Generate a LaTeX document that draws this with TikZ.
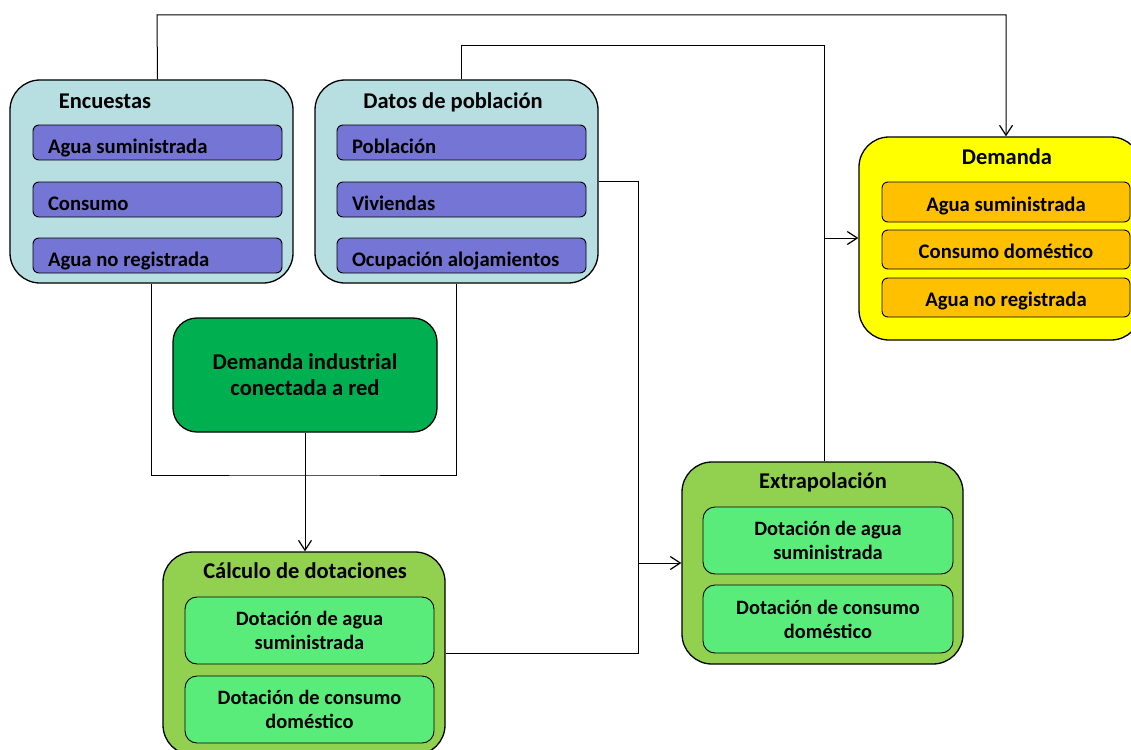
\documentclass[tikz,border=0pt]{standalone}
\usepackage{fontspec}
\setmainfont{Carlito}
\usetikzlibrary{arrows.meta}

\definecolor{panelblue}{HTML}{B7DEE1}
\definecolor{itempurple}{HTML}{7575D5}
\definecolor{panelyellow}{HTML}{FFFF00}
\definecolor{itemorange}{HTML}{FFC000}
\definecolor{panelgreen}{HTML}{92D050}
\definecolor{itemgreen}{HTML}{5AEC7A}
\definecolor{darkgreen}{HTML}{00B050}

\tikzset{
  stagebox/.style={draw=black, line width=1.3pt, rounded corners=30pt, inner sep=0pt},
  itembox/.style={draw=black, line width=0.9pt, rounded corners=6pt, inner sep=0pt,
    font=\bfseries\fontsize{20.7}{24}\selectfont},
  leftitem/.style={itembox, text width=219pt, align=flush left, text height=21pt, text depth=0pt},
  centeritem/.style={itembox, align=center, text height=18pt, text depth=0pt},
  doubleitem/.style={itembox, align=center, rounded corners=12pt,
    font=\bfseries\fontsize{20.4}{24}\selectfont},
  stagetitle/.style={anchor=base, inner sep=0pt, font=\bfseries\fontsize{22.5}{26}\selectfont},
  link/.style={draw=black, line width=1pt},
  arr/.style={-{Straight Barb[length=10pt, width=13pt, line width=1.2pt]}}
}

\begin{document}
\begin{tikzpicture}[x=1pt, y=-1pt]
    \useasboundingbox (0,0) rectangle (1131,749);
    \clip (0,0) rectangle (1131,749);

    % paneles
    \node[stagebox, fill=panelblue, minimum width=283pt, minimum height=203pt] (enc) at (151.5,181.5) {};
    \node[stagebox, fill=panelblue, minimum width=283pt, minimum height=203pt] (datos) at (456.5,181.5) {};
    \node[stagebox, fill=panelyellow, minimum width=282pt, minimum height=203pt] (dem) at (1000,238.5) {};
    \node[stagebox, fill=darkgreen, rounded corners=24pt, minimum width=264pt, minimum height=114pt,
          align=center, font=\bfseries\fontsize{22.6}{26}\selectfont] (ind) at (305,375)
          {Demanda industrial\\conectada a red};
    \node[stagebox, fill=panelgreen, minimum width=282pt, minimum height=203pt] (calc) at (304,653.5) {};
    \node[stagebox, fill=panelgreen, minimum width=281pt, minimum height=202pt] (extra) at (822.5,563) {};

    % titulos
    \node[stagetitle] (encT) at (105,109) {Encuestas};
    \node[stagetitle] (datosT) at (453,109) {Datos de población};
    \node[stagetitle] (demT) at (1007,164) {Demanda};
    \node[stagetitle] (calcT) at (305,578) {Cálculo de dotaciones};
    \node[stagetitle] (extraT) at (823,488) {Extrapolación};

    % encuestas
    \node[leftitem, fill=itempurple, minimum width=249pt, minimum height=35pt] (ea1) at (157.5,142.5) {Agua suministrada};
    \node[leftitem, fill=itempurple, minimum width=249pt, minimum height=35pt] (ea2) at (157.5,199.5) {Consumo};
    \node[leftitem, fill=itempurple, minimum width=249pt, minimum height=35pt] (ea3) at (157.5,255.5) {Agua no registrada};

    % datos de poblacion
    \node[leftitem, fill=itempurple, minimum width=249pt, minimum height=35pt] (da1) at (461.5,142.5) {Población};
    \node[leftitem, fill=itempurple, minimum width=249pt, minimum height=35pt] (da2) at (461.5,199.5) {Viviendas};
    \node[leftitem, fill=itempurple, minimum width=249pt, minimum height=35pt] (da3) at (461.5,255.5) {Ocupación alojamientos};

    % demanda
    \node[centeritem, fill=itemorange, minimum width=248pt, minimum height=40pt] (db1) at (1006,202) {Agua suministrada};
    \node[centeritem, fill=itemorange, minimum width=248pt, minimum height=39pt] (db2) at (1006,249.5) {Consumo doméstico};
    \node[centeritem, fill=itemorange, minimum width=248pt, minimum height=39pt] (db3) at (1006,297.5) {Agua no registrada};

    % dotaciones
    \node[doubleitem, fill=itemgreen, minimum width=249pt, minimum height=67pt] (cb1) at (309.5,630.5) {Dotación de agua\\suministrada};
    \node[doubleitem, fill=itemgreen, minimum width=249pt, minimum height=67pt] (cb2) at (309.5,709.5) {Dotación de consumo\\doméstico};
    \node[doubleitem, fill=itemgreen, minimum width=250pt, minimum height=67pt] (xb1) at (828,540.5) {Dotación de agua\\suministrada};
    \node[doubleitem, fill=itemgreen, minimum width=250pt, minimum height=68pt] (xb2) at (828,619) {Dotación de consumo\\doméstico};

    % conexiones
    \coordinate (t1) at (157,15);
    \coordinate (t2) at (461,46);
    \coordinate (j1) at (824,238);
    \coordinate (j2) at (638,563);
    \coordinate (j3) at (305,475);

    \draw[link,arr] (ea1 |- enc.north) -- (t1) -| (dem.north -| db1);
    \draw[link] (datos.north -| t2) -- (t2) -| (j1);
    \draw[link] (extra.north -| j1) -- (j1);
    \draw[link,arr] (j1) -- (j1 -| dem.west);
    \draw[link] (datos.east) -| (j2);
    \draw[link] (calc.east) -| (j2);
    \draw[link,arr] (j2) -- (extra.west);
    \draw[link] (enc.south) |- (j3) -| (datos.south);
    \draw[link,arr] (ind.south) -- (ind.south |- calc.north);
\end{tikzpicture}
\end{document}
